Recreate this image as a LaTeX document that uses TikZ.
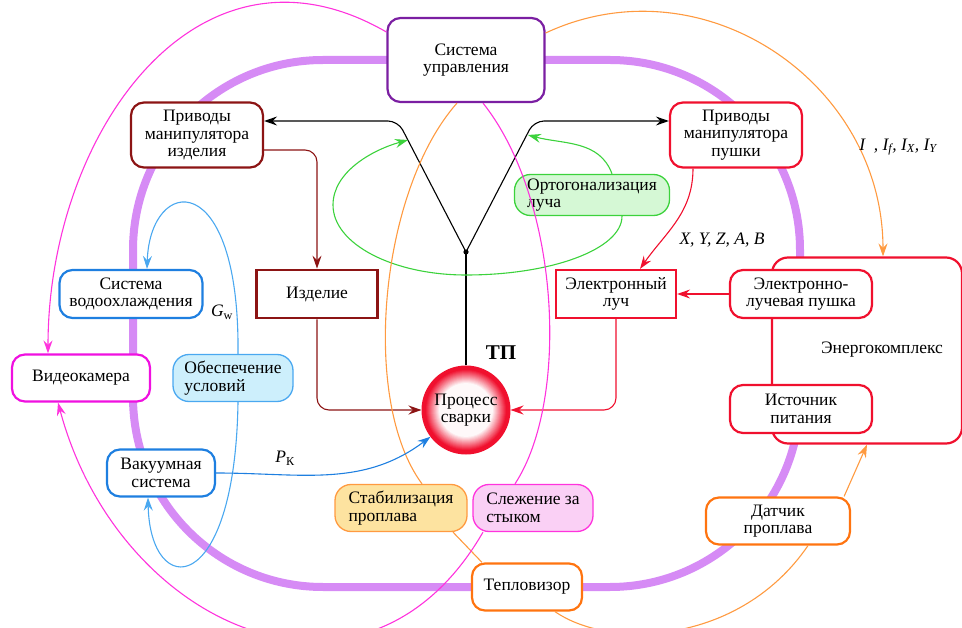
\documentclass[tikz,border=0pt]{standalone}
\usepackage{fontspec}
\setmainfont{Liberation Serif}
\usetikzlibrary{arrows.meta}
\definecolor{ctrlc}{HTML}{7B1FA2}
\definecolor{itemred}{HTML}{8C1414}
\definecolor{beamred}{HTML}{F0102E}
\definecolor{coolblue}{HTML}{1E7FE0}
\definecolor{condline}{HTML}{4AA8F0}
\definecolor{condfill}{HTML}{CDEFFC}
\definecolor{orthline}{HTML}{3CD23C}
\definecolor{orthfill}{HTML}{D5F8D5}
\definecolor{magline}{HTML}{FF33DD}
\definecolor{cammag}{HTML}{F010E0}
\definecolor{trackfill}{HTML}{FAD0F5}
\definecolor{orangeline}{HTML}{FF9A40}
\definecolor{orangebox}{HTML}{FF7410}
\definecolor{stabfill}{HTML}{FDE3A0}
\definecolor{ringc}{HTML}{D68BF5}
\newcommand{\diagfont}{\fontsize{17.5}{17.5}\selectfont}
\tikzset{
    rounded-box/.style = {draw, fill=white, line width=2.2pt, rectangle, rounded corners=13pt, align=center, inner xsep=4pt, inner ysep=2pt, minimum height=48pt, font=\diagfont},
    square-box/.style = {rounded-box, rounded corners=0pt},
    soft-box/.style = {rounded-box, line width=1.3pt, align=left, rounded corners=16pt, minimum height=47pt},
    glow-circle/.style = {circle, draw=beamred, line width=3pt, fill=white, minimum size=86pt, inner sep=0pt, align=center, font=\diagfont,
        path picture={\foreach \k [evaluate=\k as \pct using {int(min(100,115-7*\k))}] in {0,...,16}
            \fill[beamred!\pct!white] (path picture bounding box.center) circle ({43-\k});}},
    wire/.style = {line width=1.1pt},
    link/.style = {wire, -{Stealth[length=13pt,width=9pt,inset=4.5pt]}},
}

\begin{document}
\begin{tikzpicture}[x=1pt,y=1pt]
\useasboundingbox (0,0) rectangle (962,-628);
\draw[ringc, line width=8pt, rounded corners=190pt] (133,-60) rectangle (800,-587);
\node [rounded-box, draw=beamred, minimum width=190pt, minimum height=186pt, rounded corners=16pt] (energy) at (867,-350.5) {};
\node [font=\diagfont] (energy-label) at (882,-350) {Энергокомплекс};

\node [rounded-box, draw=ctrlc, minimum width=157pt, minimum height=84pt] (ctrl) at (466,-60) {Система\\управления};
\node [rounded-box, draw=itemred, minimum width=132pt, minimum height=65pt] (drvW) at (197,-135) {Приводы\\манипулятора\\изделия};
\node [rounded-box, draw=beamred, minimum width=132pt, minimum height=65pt] (drvG) at (736,-135) {Приводы\\манипулятора\\пушки};
\node [soft-box, draw=orthline, fill=orthfill, minimum width=155pt, minimum height=41pt] (orth) at (592,-195) {Ортогонализация\\луча};
\node [rounded-box, draw=coolblue, minimum width=143pt] (cool) at (131,-294) {Система\\водоохлаждения};
\node [square-box, draw=itemred, line width=2.8pt, minimum width=121pt] (item) at (317,-294) {Изделие};
\node [square-box, draw=beamred, minimum width=120pt] (beam) at (616,-294) {Электронный\\луч};
\node [rounded-box, draw=beamred, minimum width=142pt] (gun) at (801,-294) {Электронно-\\лучевая пушка};
\node [rounded-box, draw=beamred, minimum width=142pt] (source) at (801,-409) {Источник\\питания};
\node [rounded-box, draw=cammag, minimum width=138pt, minimum height=47pt] (cam) at (81,-378) {Видеокамера};
\node [soft-box, draw=condline, fill=condfill, minimum width=120pt] (cond) at (233,-378) {Обеспечение\\условий};
\node [rounded-box, draw=coolblue, minimum width=108pt, minimum height=47pt] (vac) at (161,-473) {Вакуумная\\система};
\node [glow-circle] (weld) at (466,-410) {Процесс\\сварки};
\node [font=\fontsize{21}{22}\selectfont\bfseries] (tp-label) at (501,-353) {ТП};
\node [soft-box, draw=orangeline, fill=stabfill, minimum width=132pt] (stab) at (401,-508) {Стабилизация\\проплава};
\node [soft-box, draw=magline, fill=trackfill, minimum width=120pt] (track) at (533,-508) {Слежение за\\стыком};
\node [rounded-box, draw=orangebox, minimum width=110pt, minimum height=47pt] (thermo) at (527,-587) {Тепловизор};
\node [rounded-box, draw=orangebox, minimum width=144pt, minimum height=47pt] (sensor) at (778,-521) {Датчик\\проплава};

\coordinate (jn) at (466,-252);
\coordinate (kl) at (398,-121);
\coordinate (kr) at (534,-121);
\coordinate (gl) at (408,-140);
\coordinate (gr) at (528,-135);
\draw[wire] (weld.north) -- (jn);
\fill (jn) circle (2.6pt);
\draw[link, rounded corners=10pt] (jn) -- (kl) -- (drvW.east |- kl);
\draw[link, rounded corners=10pt] (jn) -- (kr) -- (drvG.west |- kr);

\draw[link, draw=orthline] ([xshift=30pt]orth.south) .. controls (622,-249) and (552,-275) .. (466,-275) .. controls (393,-275) and (333,-244) .. (333,-205) .. controls (333,-172) and (372,-150) .. (gl);
\draw[link, draw=orthline] ([xshift=20pt]orth.north) to[out=110,in=-15] (gr);

\draw[link, draw=itemred, rounded corners=12pt] ([yshift=-15pt]drvW.east) -| (item.north);
\draw[link, draw=itemred, rounded corners=12pt] (item.south) |- (weld.west);
\draw[link, draw=beamred, rounded corners=12pt] (beam.south) |- (weld.east);
\draw[link, draw=beamred] (gun.west) -- (beam.east);
\draw[link, draw=beamred] ([xshift=-43pt]drvG.south) to[out=-90,in=55] ([xshift=24pt]beam.north);
\node [font=\diagfont\itshape] (xyz-label) at (722,-240) {X, Y, Z, A, B};

\draw[link, draw=orangeline] ([yshift=27pt]ctrl.east) to[out=25,in=90,looseness=1.1] ([xshift=16pt]energy.north);
\node [font=\diagfont\itshape] (cur-label) at (898,-147) {I\enspace, I\textsubscript{f}, I\textsubscript{X}, I\textsubscript{Y}};
\draw[wire, draw=orangeline] ([xshift=-9pt]ctrl.south) .. controls (380,-190) and (360,-400) .. ([xshift=21pt]stab.north);
\draw[wire, draw=orangeline] ([xshift=52pt]stab.south) -- ([xshift=-45pt]thermo.north);
\draw[wire, draw=orangeline] ([xshift=28pt]thermo.south) .. controls (610,-650) and (740,-645) .. ([xshift=30pt]sensor.south);
\draw[link, draw=orangeline] ([xshift=-7pt]sensor.north east) -- (energy.south);

\draw[link, draw=magline] ([yshift=28pt]ctrl.west) to[out=150,in=90,looseness=1.2] ([xshift=-33pt]cam.north);
\draw[wire, draw=magline] ([xshift=17pt]ctrl.south) .. controls (560,-200) and (570,-400) .. ([xshift=-18pt]track.north);
\draw[link, draw=magline] ([xshift=-50pt]track.south) to[out=-120,in=-75,looseness=1.35] ([xshift=-23pt]cam.south);

\draw[link, draw=condline] ([xshift=5pt]cond.north) .. controls (240,-165) and (150,-175) .. ([xshift=16pt]cool.north);
\draw[link, draw=condline] ([xshift=5pt]cond.south) .. controls (235,-600) and (150,-600) .. ([xshift=-13pt]vac.south);
\node [font=\diagfont] (gw-label) at (222,-312) {\textit{G}\textsubscript{w}};
\draw[link, draw=coolblue] (vac.east) to[out=0,in=217] (weld.217);
\node [font=\diagfont] (pk-label) at (285,-458) {\textit{P}\textsubscript{К}};
\end{tikzpicture}
\end{document}
